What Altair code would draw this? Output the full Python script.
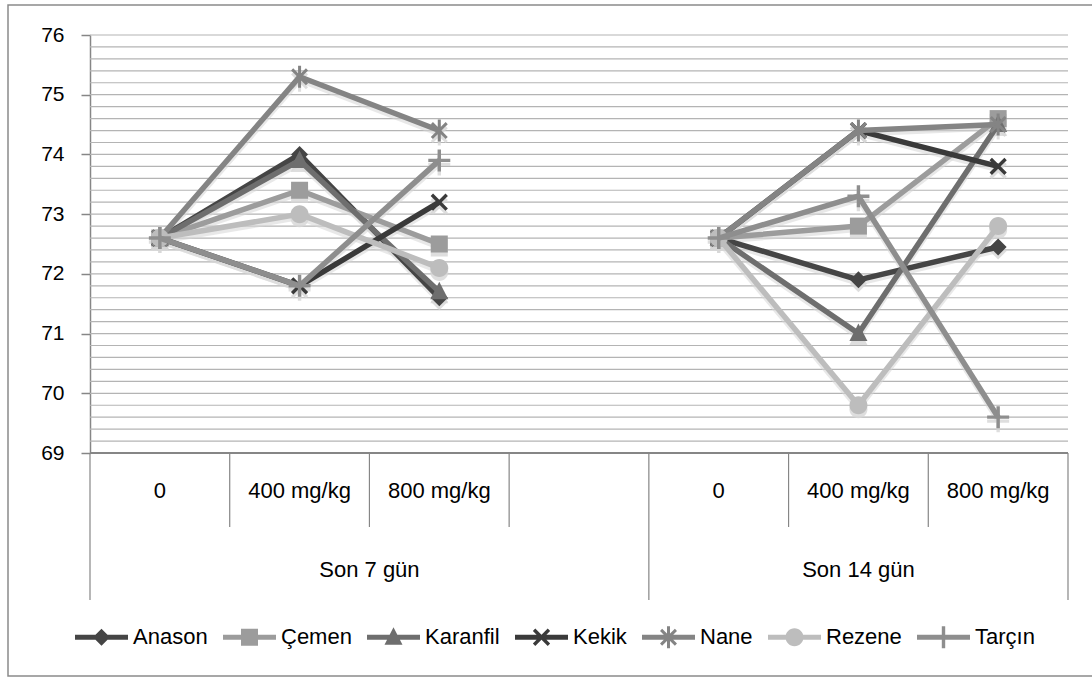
import math
import altair as alt
import pandas as pd

# ---- data -------------------------------------------------------------
categories = ["0", "400 mg/kg", "800 mg/kg", "", "0", "400 mg/kg", "800 mg/kg"]
groups = ["Son 7 gün", "Son 14 gün"]
group_spans = [(0, 4), (4, 7)]          # category slots covered by each group
value_slots = [0, 1, 2, 4, 5, 6]        # slots that carry a measurement
slot_group = ["Son 7 gün"] * 3 + ["Son 14 gün"] * 3

series = ["Anason", "Çemen", "Karanfil", "Kekik", "Nane", "Rezene", "Tarçın"]
colors = ["#454545", "#9c9c9c", "#6e6e6e", "#3a3a3a", "#848484", "#bdbdbd", "#8e8e8e"]
markers = ["diamond", "square", "triangle", "x", "asterisk", "circle", "plus"]

anason = [72.6, 74.0, 71.6, 72.6, 71.9, 72.45]
cemen = [72.6, 73.4, 72.5, 72.6, 72.8, 74.6]
karanfil = [72.6, 73.9, 71.7, 72.6, 71.0, 74.5]
kekik = [72.6, 71.8, 73.2, 72.6, 74.4, 73.8]
nane = [72.6, 75.3, 74.4, 72.6, 74.4, 74.5]
rezene = [72.6, 73.0, 72.1, 72.6, 69.8, 72.8]
tarcin = [72.6, 71.8, 73.9, 72.6, 73.3, 69.6]
series_values = [anason, cemen, karanfil, kekik, nane, rezene, tarcin]

y_min, y_max = 69, 76
y_ticks = list(range(y_min, y_max + 1))
grid_step = 0.2

# ---- tables -----------------------------------------------------------
rows = []
for name, vals in zip(series, series_values):
    for slot, grp, v in zip(value_slots, slot_group, vals):
        rows.append({"series": name, "pos": slot + 0.5, "group": grp, "value": v})
df = pd.DataFrame(rows)

n_grid = int(round((y_max - y_min) / grid_step))
grid_df = pd.DataFrame({"v": [round(y_min + grid_step * (i + 1), 2) for i in range(n_grid)]})

cat_df = pd.DataFrame({"label": categories, "pos": [i + 0.5 for i in range(len(categories))]})
grp_df = pd.DataFrame({"label": groups, "pos": [(a + b) / 2 for a, b in group_spans]})

long_edges = sorted({e for span in group_spans for e in span})
short_edges = [e for e in range(len(categories) + 1) if e not in long_edges]
long_df = pd.DataFrame({"b": long_edges})
short_df = pd.DataFrame({"b": short_edges})

# ---- geometry / style --------------------------------------------------
W, H = 978, 418
FONT = "Liberation Sans"
AXIS_GRAY = "#868686"
SHADOW = "#d6d6d6"

xscale = alt.Scale(domain=[0, len(categories)], nice=False, zero=False)
yscale = alt.Scale(domain=[y_min, y_max], nice=False, zero=False)
cscale = alt.Scale(domain=series, range=colors)


def fmt(v):
    s = f"{v:.4f}".rstrip("0").rstrip(".")
    return "0" if s in ("-0", "") else s


def poly(pts, u):
    return "M" + "L".join(f"{fmt(x / u)},{fmt(y / u)}" for x, y in pts) + "Z"


def bar(half_len, half_th, ang_deg, u):
    a = math.radians(ang_deg)
    c, s = math.cos(a), math.sin(a)
    base = [(-half_len, -half_th), (half_len, -half_th), (half_len, half_th), (-half_len, half_th)]
    return poly([(x * c - y * s, x * s + y * c) for x, y in base], u)


def circle(r, u):
    r = fmt(r / u)
    return f"M-{r},0A{r},{r} 0 1,1 {r},0A{r},{r} 0 1,1 -{r},0Z"


def marker_path(kind, u):
    if kind == "diamond":
        return poly([(0, -8.5), (8.5, 0), (0, 8.5), (-8.5, 0)], u)
    if kind == "square":
        return poly([(-8.5, -8.5), (8.5, -8.5), (8.5, 8.5), (-8.5, 8.5)], u)
    if kind == "triangle":
        return poly([(0, -10), (9, 7.5), (-9, 7.5)], u)
    if kind == "circle":
        return circle(9, u)
    if kind == "x":
        return bar(10.5, 1.7, 45, u) + bar(10.5, 1.7, -45, u)
    if kind == "asterisk":
        return bar(10.5, 1.5, 45, u) + bar(10.5, 1.5, -45, u) + bar(11, 1.5, 90, u)
    return bar(11, 1.7, 0, u) + bar(11, 1.7, 90, u)


MARK_SIZE = 400                      # path unit = 10 px
LEG_W = 53                           # legend symbol width in px
LEG_SIZE = LEG_W * LEG_W
mark_unit = math.sqrt(MARK_SIZE) / 2
leg_unit = LEG_W / 2
legend_paths = [bar(LEG_W / 2, 2.4, 0, leg_unit) + marker_path(m, leg_unit) for m in markers]

X_ENC = alt.X("pos:Q", scale=xscale, axis=None)
Y_ENC = alt.Y("value:Q", scale=yscale)

# ---- layers ------------------------------------------------------------
frame = alt.Chart(pd.DataFrame({"k": [0]})).mark_rect(
    fillOpacity=0, stroke="#8a8a8a", strokeWidth=1.5
).encode(x=alt.value(-82), x2=alt.value(1030), y=alt.value(-30), y2=alt.value(641))

grid = alt.Chart(grid_df).mark_rule(color="#b4b4b4", strokeWidth=1.2).encode(
    y=alt.Y("v:Q", scale=yscale,
            axis=alt.Axis(values=y_ticks, format="d", grid=False, title=None, tickSize=9,
                          tickColor=AXIS_GRAY, domainColor=AXIS_GRAY, domainWidth=1.5,
                          tickWidth=1.5, labelFont=FONT, labelFontSize=21,
                          labelColor="#000000", labelPadding=17))
)

x_line = alt.Chart(pd.DataFrame({"k": [0]})).mark_rule(color=AXIS_GRAY, strokeWidth=2).encode(
    x=alt.value(0), x2=alt.value(W), y=alt.Y(datum=y_min, scale=yscale)
)

short_sep = alt.Chart(short_df).mark_rule(color=AXIS_GRAY, strokeWidth=1.2).encode(
    x=alt.X("b:Q", scale=xscale, axis=None), y=alt.value(H), y2=alt.value(H + 74)
)
long_sep = alt.Chart(long_df).mark_rule(color=AXIS_GRAY, strokeWidth=1.2).encode(
    x=alt.X("b:Q", scale=xscale, axis=None), y=alt.value(H), y2=alt.value(H + 147)
)

cat_text = alt.Chart(cat_df).mark_text(font=FONT, fontSize=22, color="#000000").encode(
    x=alt.X("pos:Q", scale=xscale, axis=None), y=alt.value(H + 38), text="label:N"
)
grp_text = alt.Chart(grp_df).mark_text(font=FONT, fontSize=22, color="#000000").encode(
    x=alt.X("pos:Q", scale=xscale, axis=None), y=alt.value(H + 117), text="label:N"
)

# soft drop shadow under lines and markers
shadow_layers = []
for name, m in zip(series, markers):
    base = alt.Chart(df).transform_filter(alt.datum.series == name)
    shadow_layers.append(base.mark_line(strokeWidth=6, strokeJoin="round", color=SHADOW,
                                        opacity=0.55, yOffset=3).encode(
        x=X_ENC, y=Y_ENC, detail="group:N"))
    shadow_layers.append(base.mark_point(filled=True, color=SHADOW, opacity=0.8, size=MARK_SIZE,
                                         yOffset=4, shape=marker_path(m, mark_unit)).encode(
        x=X_ENC, y=Y_ENC))

series_layers = []
for name, m in zip(series, markers):
    base = alt.Chart(df).transform_filter(alt.datum.series == name)
    line = base.mark_line(strokeWidth=5.5, strokeJoin="round").encode(
        x=X_ENC, y=Y_ENC,
        color=alt.Color("series:N", scale=cscale, legend=None),
        detail="group:N",
    )
    pts = base.mark_point(filled=True, opacity=1, size=MARK_SIZE,
                          shape=marker_path(m, mark_unit)).encode(
        x=X_ENC, y=Y_ENC,
        color=alt.Color("series:N", scale=cscale, legend=None),
    )
    series_layers += [line, pts]

leg = alt.Legend(
    orient="none", legendX=-15, legendY=602 - LEG_W / 2, direction="horizontal",
    columns=len(series), title=None, symbolSize=LEG_SIZE, symbolStrokeWidth=0,
    labelFont=FONT, labelFontSize=22, labelColor="#000000", labelOffset=5,
    columnPadding=15, padding=0, labelLimit=300,
)
# legend carrier: 1-pixel points sitting under the real markers
legend_layer = alt.Chart(df).mark_point(filled=True, opacity=1, size=1).encode(
    x=X_ENC, y=Y_ENC,
    color=alt.Color("series:N", scale=cscale, legend=leg),
    shape=alt.Shape("series:N", scale=alt.Scale(domain=series, range=legend_paths), legend=leg),
)

chart = alt.layer(
    frame, grid, x_line, short_sep, long_sep, cat_text, grp_text, legend_layer,
    *shadow_layers, *series_layers
).properties(
    width=W, height=H,
    autosize=alt.AutoSizeParams(type="none"),
    padding={"left": 90, "top": 35, "right": 24, "bottom": 225},
    background="#ffffff",
).configure_view(stroke=None)

chart.save("out.html", embed_options={"renderer": "svg", "actions": False})
